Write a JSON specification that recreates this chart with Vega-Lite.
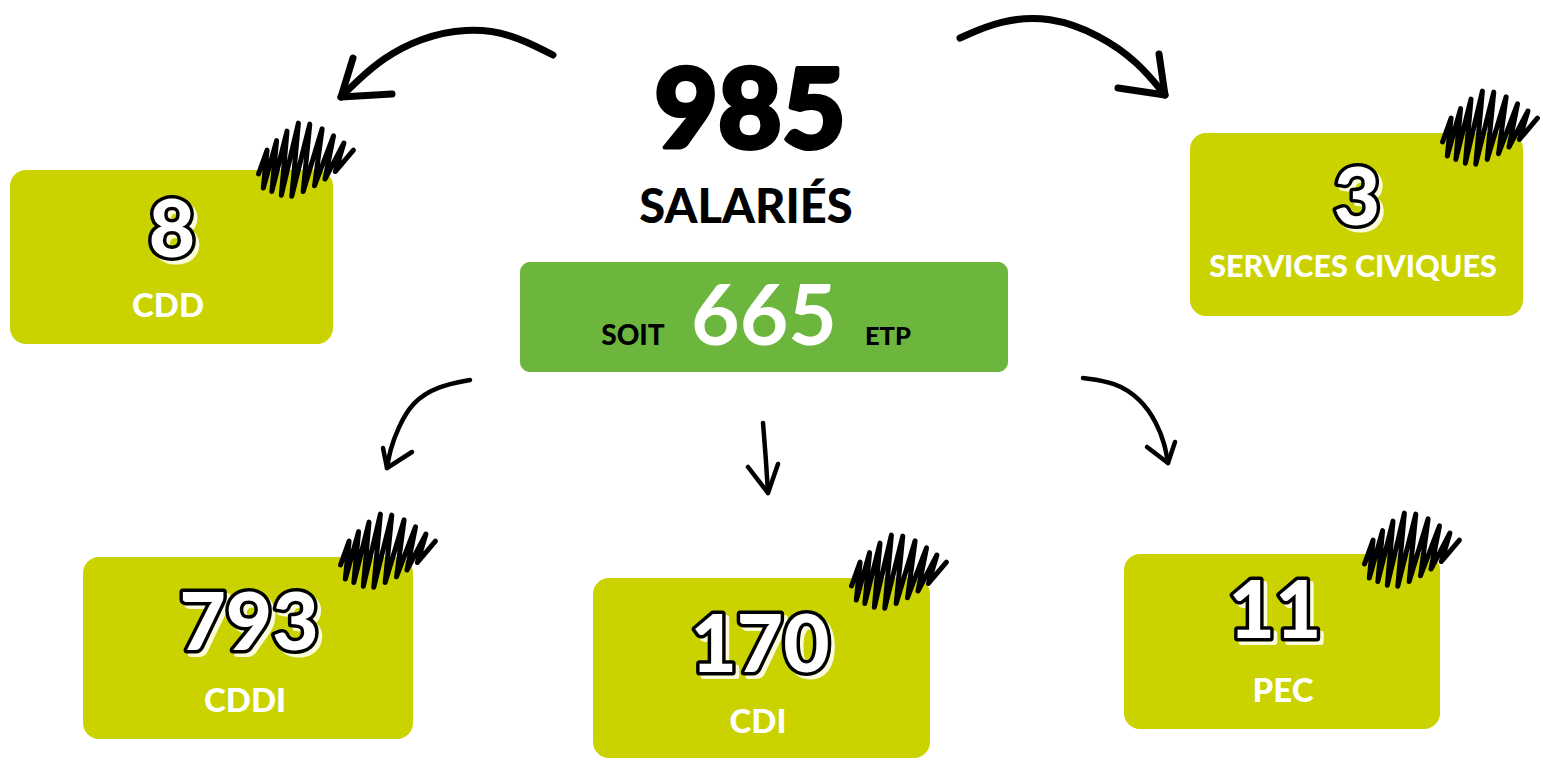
{
  "$schema": "https://vega.github.io/schema/vega-lite/v6.json",
  "width": 1543,
  "height": 760,
  "autosize": {"type": "fit", "contains": "padding"},
  "padding": 0,
  "background": "white",
  "config": {"view": {"stroke": null}},
  "datasets": {
    "cards": [
      {"type": "CDD", "left": 10, "right": 333, "top": 170, "bottom": 344},
      {"type": "SERVICES CIVIQUES", "left": 1190, "right": 1523, "top": 133, "bottom": 316},
      {"type": "CDDI", "left": 83, "right": 413, "top": 557, "bottom": 739},
      {"type": "CDI", "left": 593, "right": 930, "top": 578, "bottom": 758},
      {"type": "PEC", "left": 1124, "right": 1440, "top": 554, "bottom": 729}
    ],
    "counts": [
      {"type": "CDD", "n": "8", "cx": 172, "base": 257},
      {"type": "SERVICES CIVIQUES", "n": "3", "cx": 1357, "base": 225},
      {"type": "CDDI", "n": "793", "cx": 249, "base": 650},
      {"type": "CDI", "n": "170", "cx": 760, "base": 672},
      {"type": "PEC", "n": "11", "cx": 1275, "base": 638}
    ],
    "names": [
      {"type": "CDD", "cx": 168, "base": 317, "kind": "normal"},
      {"type": "SERVICES CIVIQUES", "cx": 1353, "base": 277, "kind": "long"},
      {"type": "CDDI", "cx": 245, "base": 712, "kind": "normal"},
      {"type": "CDI", "cx": 758, "base": 733, "kind": "normal"},
      {"type": "PEC", "cx": 1283, "base": 702, "kind": "normal"}
    ],
    "scribbles": [
      {"type": "CDD", "cx": 306, "cy": 162},
      {"type": "SERVICES CIVIQUES", "cx": 1490, "cy": 130},
      {"type": "CDDI", "cx": 388, "cy": 553},
      {"type": "CDI", "cx": 899, "cy": 574},
      {"type": "PEC", "cx": 1412, "cy": 552}
    ],
    "brush": [{"left": 520, "right": 1008, "top": 262, "bottom": 372}],
    "curves": [
      {"arrow": "a1", "w": "big", "o": 1, "x": 553, "y": 55},
      {"arrow": "a1", "w": "big", "o": 2, "x": 510, "y": 33},
      {"arrow": "a1", "w": "big", "o": 3, "x": 466, "y": 28},
      {"arrow": "a1", "w": "big", "o": 4, "x": 420, "y": 38},
      {"arrow": "a1", "w": "big", "o": 5, "x": 383, "y": 58},
      {"arrow": "a1", "w": "big", "o": 6, "x": 356, "y": 82},
      {"arrow": "a1", "w": "big", "o": 7, "x": 341, "y": 97},
      {"arrow": "a2", "w": "big", "o": 1, "x": 960, "y": 38},
      {"arrow": "a2", "w": "big", "o": 2, "x": 1000, "y": 20},
      {"arrow": "a2", "w": "big", "o": 3, "x": 1050, "y": 16},
      {"arrow": "a2", "w": "big", "o": 4, "x": 1100, "y": 35},
      {"arrow": "a2", "w": "big", "o": 5, "x": 1138, "y": 62},
      {"arrow": "a2", "w": "big", "o": 6, "x": 1165, "y": 95},
      {"arrow": "a3", "w": "small", "o": 1, "x": 470, "y": 380},
      {"arrow": "a3", "w": "small", "o": 2, "x": 438, "y": 386},
      {"arrow": "a3", "w": "small", "o": 3, "x": 412, "y": 402},
      {"arrow": "a3", "w": "small", "o": 4, "x": 398, "y": 428},
      {"arrow": "a3", "w": "small", "o": 5, "x": 390, "y": 450},
      {"arrow": "a3", "w": "small", "o": 6, "x": 387, "y": 468},
      {"arrow": "a4", "w": "small", "o": 1, "x": 763, "y": 423},
      {"arrow": "a4", "w": "small", "o": 2, "x": 766, "y": 460},
      {"arrow": "a4", "w": "small", "o": 3, "x": 768, "y": 493},
      {"arrow": "a5", "w": "small", "o": 1, "x": 1083, "y": 378},
      {"arrow": "a5", "w": "small", "o": 2, "x": 1115, "y": 382},
      {"arrow": "a5", "w": "small", "o": 3, "x": 1141, "y": 399},
      {"arrow": "a5", "w": "small", "o": 4, "x": 1157, "y": 423},
      {"arrow": "a5", "w": "small", "o": 5, "x": 1165, "y": 445},
      {"arrow": "a5", "w": "small", "o": 6, "x": 1168, "y": 463}
    ],
    "heads": [
      {"arrow": "a1", "w": "big", "o": 1, "x": 353, "y": 58},
      {"arrow": "a1", "w": "big", "o": 2, "x": 341, "y": 97},
      {"arrow": "a1", "w": "big", "o": 3, "x": 392, "y": 94},
      {"arrow": "a2", "w": "big", "o": 1, "x": 1159, "y": 54},
      {"arrow": "a2", "w": "big", "o": 2, "x": 1165, "y": 95},
      {"arrow": "a2", "w": "big", "o": 3, "x": 1118, "y": 88},
      {"arrow": "a3", "w": "small", "o": 1, "x": 383, "y": 448},
      {"arrow": "a3", "w": "small", "o": 2, "x": 387, "y": 468},
      {"arrow": "a3", "w": "small", "o": 3, "x": 412, "y": 452},
      {"arrow": "a4", "w": "small", "o": 1, "x": 748, "y": 467},
      {"arrow": "a4", "w": "small", "o": 2, "x": 768, "y": 493},
      {"arrow": "a4", "w": "small", "o": 3, "x": 778, "y": 464},
      {"arrow": "a5", "w": "small", "o": 1, "x": 1147, "y": 447},
      {"arrow": "a5", "w": "small", "o": 2, "x": 1168, "y": 463},
      {"arrow": "a5", "w": "small", "o": 3, "x": 1175, "y": 442}
    ],
    "headline": [
      {"t": "985", "cx": 750, "base": 148}
    ],
    "subline": [
      {"t": "SALARIÉS", "cx": 746, "base": 223}
    ],
    "etp": [
      {"t": "SOIT", "cx": 633, "base": 345, "kind": "word"},
      {"t": "ETP", "cx": 888, "base": 345, "kind": "small"}
    ],
    "etpvalue": [
      {"t": "665", "cx": 764, "base": 345}
    ]
  },
  "layer": [
    {
      "data": {"name": "brush"},
      "mark": {"type": "rect", "color": "#6CB63E", "cornerRadius": 10},
      "encoding": {
        "x": {"field": "left", "type": "quantitative", "scale": {"domain": [0, 1543], "nice": false, "zero": false}, "axis": null},
        "x2": {"field": "right"},
        "y": {"field": "top", "type": "quantitative", "scale": {"domain": [0, 760], "nice": false, "zero": false, "reverse": true}, "axis": null},
        "y2": {"field": "bottom"}
      }
    },
    {
      "data": {"name": "cards"},
      "mark": {"type": "rect", "color": "#CAD300", "cornerRadius": 16},
      "encoding": {
        "x": {"field": "left", "type": "quantitative", "scale": {"domain": [0, 1543], "nice": false, "zero": false}, "axis": null},
        "x2": {"field": "right"},
        "y": {"field": "top", "type": "quantitative", "scale": {"domain": [0, 760], "nice": false, "zero": false, "reverse": true}, "axis": null},
        "y2": {"field": "bottom"}
      }
    },
    {
      "data": {"name": "scribbles"},
      "mark": {"type": "point", "filled": false, "stroke": "black", "strokeWidth": 5, "strokeJoin": "round", "strokeCap": "round", "opacity": 1, "size": 9000,
        "shape": "M-1,0.25 L-0.82,-0.25 L-0.9,0.55 L-0.62,-0.45 L-0.72,0.62 L-0.4,-0.65 L-0.52,0.7 L-0.16,-0.82 L-0.3,0.72 L0.08,-0.8 L-0.06,0.62 L0.34,-0.7 L0.18,0.5 L0.58,-0.55 L0.4,0.36 L0.8,-0.4 L0.62,0.2 L1,-0.25"},
      "encoding": {
        "x": {"field": "cx", "type": "quantitative", "scale": {"domain": [0, 1543], "nice": false, "zero": false}, "axis": null},
        "y": {"field": "cy", "type": "quantitative", "scale": {"domain": [0, 760], "nice": false, "zero": false, "reverse": true}, "axis": null}
      }
    },
    {
      "data": {"name": "curves"},
      "mark": {"type": "line", "color": "black", "interpolate": "basis", "strokeCap": "round", "strokeJoin": "round"},
      "encoding": {
        "x": {"field": "x", "type": "quantitative", "scale": {"domain": [0, 1543], "nice": false, "zero": false}, "axis": null},
        "y": {"field": "y", "type": "quantitative", "scale": {"domain": [0, 760], "nice": false, "zero": false, "reverse": true}, "axis": null},
        "order": {"field": "o", "type": "quantitative"},
        "detail": {"field": "arrow", "type": "nominal"},
        "strokeWidth": {"field": "w", "type": "nominal", "scale": {"domain": ["big", "small"], "range": [7, 4.5]}, "legend": null}
      }
    },
    {
      "data": {"name": "heads"},
      "mark": {"type": "line", "color": "black", "interpolate": "linear", "strokeCap": "round", "strokeJoin": "round"},
      "encoding": {
        "x": {"field": "x", "type": "quantitative", "scale": {"domain": [0, 1543], "nice": false, "zero": false}, "axis": null},
        "y": {"field": "y", "type": "quantitative", "scale": {"domain": [0, 760], "nice": false, "zero": false, "reverse": true}, "axis": null},
        "order": {"field": "o", "type": "quantitative"},
        "detail": {"field": "arrow", "type": "nominal"},
        "strokeWidth": {"field": "w", "type": "nominal", "scale": {"domain": ["big", "small"], "range": [8, 5.5]}, "legend": null}
      }
    },
    {
      "data": {"name": "counts"},
      "mark": {"type": "text", "font": "Lato", "fontWeight": 900, "fontSize": 80, "align": "center", "baseline": "alphabetic", "dx": 4, "dy": 4, "fill": "#FAFBD8", "stroke": "#FAFBD8", "strokeWidth": 6, "strokeJoin": "round"},
      "encoding": {
        "x": {"field": "cx", "type": "quantitative", "scale": {"domain": [0, 1543], "nice": false, "zero": false}, "axis": null},
        "y": {"field": "base", "type": "quantitative", "scale": {"domain": [0, 760], "nice": false, "zero": false, "reverse": true}, "axis": null},
        "text": {"field": "n", "type": "nominal"}
      }
    },
    {
      "data": {"name": "counts"},
      "mark": {"type": "text", "font": "Lato", "fontWeight": 900, "fontSize": 80, "align": "center", "baseline": "alphabetic", "fill": "black", "stroke": "black", "strokeWidth": 7, "strokeJoin": "round"},
      "encoding": {
        "x": {"field": "cx", "type": "quantitative", "scale": {"domain": [0, 1543], "nice": false, "zero": false}, "axis": null},
        "y": {"field": "base", "type": "quantitative", "scale": {"domain": [0, 760], "nice": false, "zero": false, "reverse": true}, "axis": null},
        "text": {"field": "n", "type": "nominal"}
      }
    },
    {
      "data": {"name": "counts"},
      "mark": {"type": "text", "font": "Lato", "fontWeight": 900, "fontSize": 80, "align": "center", "baseline": "alphabetic", "fill": "white"},
      "encoding": {
        "x": {"field": "cx", "type": "quantitative", "scale": {"domain": [0, 1543], "nice": false, "zero": false}, "axis": null},
        "y": {"field": "base", "type": "quantitative", "scale": {"domain": [0, 760], "nice": false, "zero": false, "reverse": true}, "axis": null},
        "text": {"field": "n", "type": "nominal"}
      }
    },
    {
      "data": {"name": "names"},
      "mark": {"type": "text", "font": "Lato", "fontWeight": 900, "align": "center", "baseline": "alphabetic", "fill": "white"},
      "encoding": {
        "x": {"field": "cx", "type": "quantitative", "scale": {"domain": [0, 1543], "nice": false, "zero": false}, "axis": null},
        "y": {"field": "base", "type": "quantitative", "scale": {"domain": [0, 760], "nice": false, "zero": false, "reverse": true}, "axis": null},
        "text": {"field": "type", "type": "nominal"},
        "size": {"field": "kind", "type": "nominal", "scale": {"domain": ["normal", "long"], "range": [33, 25.5]}, "legend": null}
      }
    },
    {
      "data": {"name": "headline"},
      "mark": {"type": "text", "font": "Lato", "fontWeight": 900, "fontSize": 110, "align": "center", "baseline": "alphabetic", "fill": "black", "stroke": "black", "strokeWidth": 4, "strokeJoin": "round"},
      "encoding": {
        "x": {"field": "cx", "type": "quantitative", "scale": {"domain": [0, 1543], "nice": false, "zero": false}, "axis": null},
        "y": {"field": "base", "type": "quantitative", "scale": {"domain": [0, 760], "nice": false, "zero": false, "reverse": true}, "axis": null},
        "text": {"field": "t", "type": "nominal"}
      }
    },
    {
      "data": {"name": "subline"},
      "mark": {"type": "text", "font": "Lato", "fontWeight": 900, "fontSize": 47, "align": "center", "baseline": "alphabetic", "fill": "black"},
      "encoding": {
        "x": {"field": "cx", "type": "quantitative", "scale": {"domain": [0, 1543], "nice": false, "zero": false}, "axis": null},
        "y": {"field": "base", "type": "quantitative", "scale": {"domain": [0, 760], "nice": false, "zero": false, "reverse": true}, "axis": null},
        "text": {"field": "t", "type": "nominal"}
      }
    },
    {
      "data": {"name": "etp"},
      "mark": {"type": "text", "font": "Lato", "fontWeight": 900, "align": "center", "baseline": "alphabetic", "fill": "black"},
      "encoding": {
        "x": {"field": "cx", "type": "quantitative", "scale": {"domain": [0, 1543], "nice": false, "zero": false}, "axis": null},
        "y": {"field": "base", "type": "quantitative", "scale": {"domain": [0, 760], "nice": false, "zero": false, "reverse": true}, "axis": null},
        "text": {"field": "t", "type": "nominal"},
        "size": {"field": "kind", "type": "nominal", "scale": {"domain": ["word", "small"], "range": [41, 32]}, "legend": null}
      }
    },
    {
      "data": {"name": "etpvalue"},
      "mark": {"type": "text", "font": "Lato", "fontWeight": 700, "fontSize": 84, "align": "center", "baseline": "alphabetic", "fill": "white"},
      "encoding": {
        "x": {"field": "cx", "type": "quantitative", "scale": {"domain": [0, 1543], "nice": false, "zero": false}, "axis": null},
        "y": {"field": "base", "type": "quantitative", "scale": {"domain": [0, 760], "nice": false, "zero": false, "reverse": true}, "axis": null},
        "text": {"field": "t", "type": "nominal"}
      }
    }
  ]
}
